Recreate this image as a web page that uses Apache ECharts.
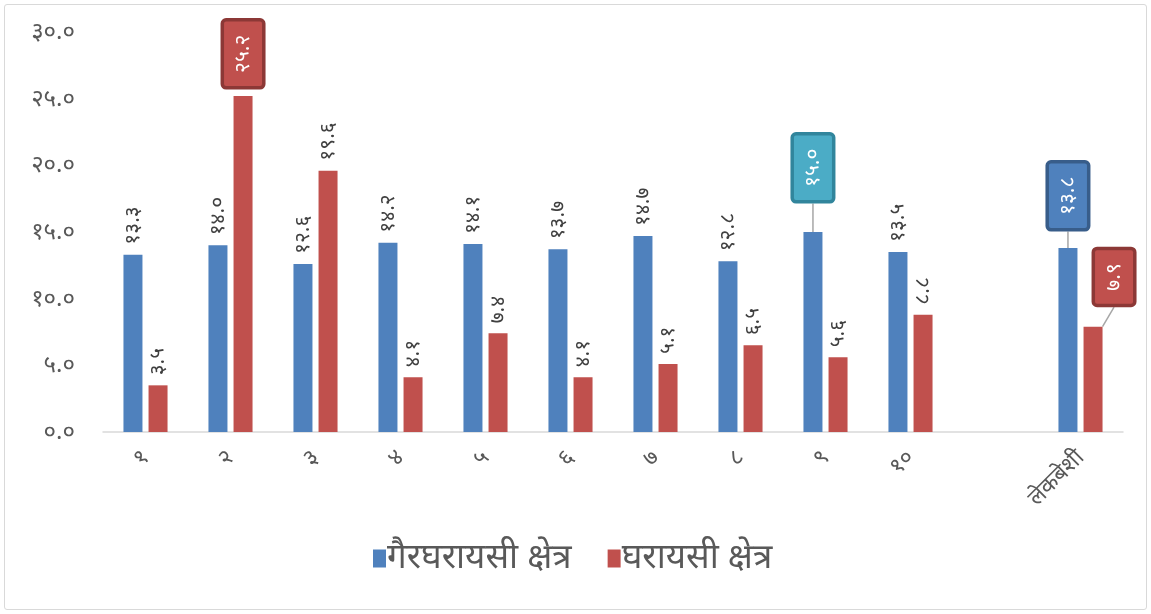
<!DOCTYPE html>
<html>
<head>
<meta charset="utf-8">
<script src="https://cdn.jsdelivr.net/npm/echarts@6/dist/echarts.min.js"></script>
<style>
  html, body { margin: 0; padding: 0; background: #fff; }
  #wrap {
    position: absolute; left: 4px; top: 4px;
    width: 1141px; height: 604px;
    border: 1px solid #d9d9d9; border-radius: 3px;
  }
  #main { width: 1151px; height: 614px; position: absolute; left: -5px; top: -5px; }
</style>
</head>
<body>
<div id="wrap"><div id="main"></div></div>
<script>
// categories (ward numbers, gap, municipality)
var categories = ["१", "२", "३", "४", "५", "६", "७", "८", "९", "१०", "", "लेकबेशी"];
var seriesNames = ["गैरघरायसी क्षेत्र", "घरायसी क्षेत्र"];
// गैरघरायसी क्षेत्र
var nonHousehold = [13.3, 14.0, 12.6, 14.2, 14.1, 13.7, 14.7, 12.8, 15.0, 13.5, null, 13.8];
// घरायसी क्षेत्र
var household = [3.5, 25.2, 19.6, 4.1, 7.4, 4.1, 5.1, 6.5, 5.6, 8.8, null, 7.9];
var yTicks = ["०.०", "५.०", "१०.०", "१५.०", "२०.०", "२५.०", "३०.०"];

var digits = "०१२३४५६७८९";
function toNep(n) {
  return n.toFixed(1).replace(/[0-9]/g, function (d) { return digits[+d]; });
}

var font = "'Noto Sans', 'Noto Sans Devanagari', sans-serif";
var blue = "#4f81bd", red = "#c0504d";

// highlighted labels: box style + offset
var boxes = {
  "1-1": { bg: "#c0504d", border: "#8c3836", dist: 10, dx: 0 },
  "0-8": { bg: "#4bacc6", border: "#31859c", dist: 32, dx: 0 },
  "0-11": { bg: "#4f81bd", border: "#385d8a", dist: 20, dx: 0 },
  "1-11": { bg: "#c0504d", border: "#8c3836", dist: 23, dx: 21 }
};

function buildData(vals, si) {
  return vals.map(function (v, i) {
    var b = boxes[si + "-" + i];
    if (v == null || !b) return v;
    return {
      value: v,
      label: {
        color: "#fff",
        backgroundColor: b.bg,
        borderColor: b.border,
        borderWidth: 3.5,
        borderRadius: 2,
        padding: [9, 13, 8, 13],
        distance: b.dist
      },
      labelLine: { show: b.dx !== 0 || b.dist > 15, lineStyle: { color: "#a6a6a6", width: 1.5 } }
    };
  });
}

// move the boxed label sideways (only where dx is set)
function moveBox(p) {
  var b = boxes[p.seriesIndex + "-" + p.dataIndex];
  if (!b || !b.dx) return {};
  return {
    x: p.rect.x + p.rect.width / 2 + b.dx,
    y: p.rect.y - b.dist,
    align: "left",
    verticalAlign: "middle"
  };
}

var chart = echarts.init(document.getElementById("main"));
var labelBase = {
  show: true,
  position: "top",
  rotate: 90,
  align: "left",
  verticalAlign: "middle",
  distance: 10,
  fontFamily: font,
  fontSize: 21,
  color: "#404040",
  formatter: function (p) { return toNep(p.value); }
};

chart.setOption({
  animation: false,
  textStyle: { fontFamily: font },
  grid: { left: 103, right: 28, top: 32, bottom: 182 },
  legend: {
    data: seriesNames,
    bottom: 33,
    left: 368,
    itemWidth: 13,
    itemHeight: 18,
    itemGap: 36,
    icon: "rect",
    textStyle: { fontSize: 35, color: "#595959", fontFamily: font, padding: [0, 0, 0, -4] }
  },
  xAxis: {
    type: "category",
    data: categories,
    axisLine: { lineStyle: { color: "#d9d9d9", width: 1.5 } },
    axisTick: { show: false },
    axisLabel: { rotate: 45, fontSize: 23, color: "#595959", margin: 22, interval: 0, fontFamily: font }
  },
  yAxis: {
    type: "value",
    min: 0,
    max: 30,
    interval: 5,
    splitLine: { show: false },
    axisLine: { show: false },
    axisTick: { show: false },
    axisLabel: {
      fontSize: 24, color: "#595959", margin: 28, fontFamily: font,
      formatter: function (v) { return yTicks[Math.round(v / 5)]; }
    }
  },
  series: [
    {
      name: seriesNames[0], type: "bar", data: buildData(nonHousehold, 0),
      itemStyle: { color: blue }, barWidth: 19, barGap: "32%",
      label: labelBase, labelLayout: moveBox
    },
    {
      name: seriesNames[1], type: "bar", data: buildData(household, 1),
      itemStyle: { color: red }, barWidth: 19,
      label: labelBase, labelLayout: moveBox
    }
  ]
});
</script>
</body>
</html>
